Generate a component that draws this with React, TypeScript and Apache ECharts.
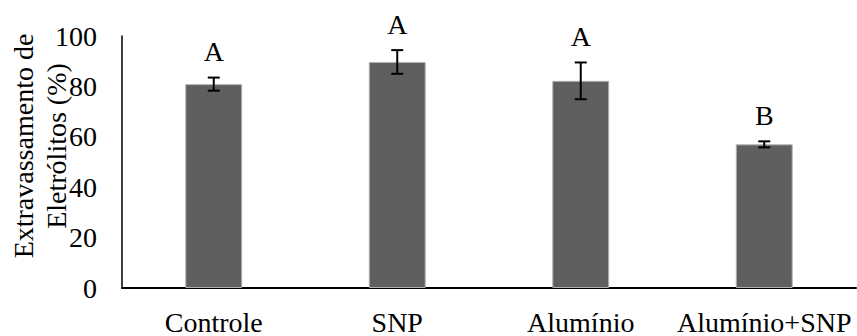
import React, { useEffect, useRef } from "react";
import * as echarts from "echarts";

const categories = ["Controle", "SNP", "Alumínio", "Alumínio+SNP"];
const means = [80.9, 89.7, 82.2, 57.0];
const errors = [2.6, 4.7, 7.3, 1.2];
const letters = ["A", "A", "A", "B"];
const yTitle = "Extravassamento de\nEletrólitos (%)";

const FONT = "'Liberation Serif', 'Times New Roman', serif";

export default function App() {
  const ref = useRef<HTMLDivElement>(null);
  useEffect(() => {
    if (!ref.current) return;
    const chart = echarts.init(ref.current, null, { renderer: "svg" });
    const errData = means.map((m, i) => [i, m, errors[i], letters[i]]);
    chart.setOption({
      animation: false,
      grid: { left: 122, right: 1, top: 36, bottom: 44, containLabel: false },
      xAxis: {
        type: "category",
        data: categories,
        axisLine: { lineStyle: { color: "#000", width: 2 } },
        axisTick: { show: false },
        axisLabel: {
          color: "#000",
          fontFamily: FONT,
          fontSize: 28,
          margin: 20,
          interval: 0,
          hideOverlap: false,
        },
      },
      yAxis: {
        type: "value",
        min: 0,
        max: 100,
        interval: 20,
        axisLine: { show: true, lineStyle: { color: "#000", width: 1.5 } },
        axisTick: { show: false },
        splitLine: { show: false },
        axisLabel: { color: "#000", fontFamily: FONT, fontSize: 28, margin: 25 },
      },
      graphic: [
        {
          type: "text",
          x: 40,
          y: 146,
          rotation: Math.PI / 2,
          style: {
            text: yTitle,
            font: `28px ${FONT}`,
            fill: "#000",
            align: "center",
            verticalAlign: "middle",
            lineHeight: 33,
          },
          z: 10,
        },
      ],
      series: [
        {
          type: "bar",
          data: means,
          barWidth: "31%",
          itemStyle: { color: "#5f5f5f", borderColor: "#b0b0b0", borderWidth: 1 },
        },
        {
          type: "custom",
          data: errData,
          z: 5,
          renderItem: (params: any, api: any) => {
            const idx = api.value(0);
            const m = api.value(1);
            const e = api.value(2);
            const lbl = letters[params.dataIndex];
            const top = api.coord([idx, m + e]);
            const bot = api.coord([idx, m - e]);
            const hw = 6;
            const st = { stroke: "#000", lineWidth: 2 };
            return {
              type: "group",
              children: [
                { type: "line", shape: { x1: top[0], y1: top[1], x2: bot[0], y2: bot[1] }, style: st },
                { type: "line", shape: { x1: top[0] - hw, y1: top[1], x2: top[0] + hw, y2: top[1] }, style: st },
                { type: "line", shape: { x1: bot[0] - hw, y1: bot[1], x2: bot[0] + hw, y2: bot[1] }, style: st },
                {
                  type: "text",
                  x: top[0],
                  y: top[1] - 26,
                  style: {
                    text: lbl,
                    font: `28px ${FONT}`,
                    fill: "#000",
                    align: "center",
                    verticalAlign: "middle",
                  },
                },
              ],
            };
          },
        },
      ],
    });
    return () => chart.dispose();
  }, []);
  return (
    <div
      ref={ref}
      style={{ position: "fixed", left: 0, top: 0, width: 857, height: 336, background: "#fff" }}
    />
  );
}
